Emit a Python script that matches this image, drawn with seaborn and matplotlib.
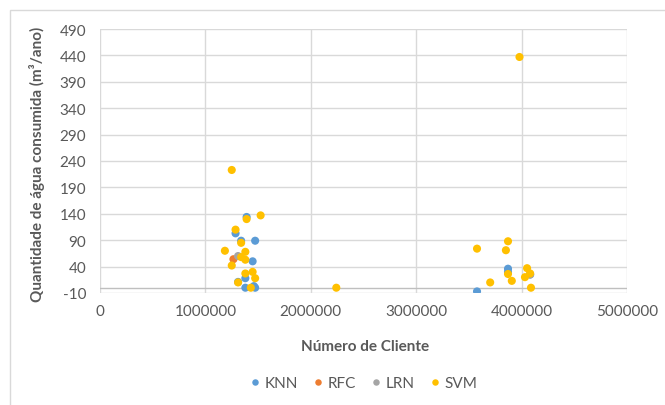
import matplotlib
matplotlib.use("Agg")
import matplotlib.pyplot as plt
from matplotlib.patches import Rectangle
import seaborn as sns
import pandas as pd

# Consumption predicted by each model, per client number
knn_x = [1391000, 1286000, 1339000, 1472000, 1448000, 1379000, 1379000,
         1460000, 1472000, 1310000, 3577000, 3871000, 3871000, 4081000]
knn_y = [134, 103, 89, 89, 50, 18, 0, 3, 0, 11, -7, 36, 30, 25]

rfc_x = [1266000]
rfc_y = [54]

lrn_x = [1310000, 4081000]
lrn_y = [60, 25]

svm_x = [1250000, 1524000, 1391000, 1286000, 1339000, 1185000, 1379000,
         1339000, 1379000, 1250000, 1379000, 1448000, 1472000, 1310000,
         1431000, 2242000, 3577000, 3871000, 3851000, 3980000, 3871000,
         3702000, 3907000, 4052000, 4081000, 4032000, 4089000]
svm_y = [223, 137, 130, 110, 85, 70, 68, 58, 53, 42, 27, 30, 18, 10,
         0, 0, 74, 88, 71, 437, 26, 10, 13, 37, 27, 20, 0]

series = ["KNN", "RFC", "LRN", "SVM"]
colors = ["#5B9BD5", "#ED7D31", "#A5A5A5", "#FFC000"]
y_ticks = list(range(-10, 491, 50))
x_ticks = [0, 1000000, 2000000, 3000000, 4000000, 5000000]

frames = []
for name, xs, ys in zip(series, [knn_x, rfc_x, lrn_x, svm_x],
                        [knn_y, rfc_y, lrn_y, svm_y]):
    frames.append(pd.DataFrame({"cliente": xs, "consumo": ys, "modelo": name}))
df = pd.concat(frames, ignore_index=True)

sns.set_theme(style="white")
plt.rcParams["font.family"] = ["Lato", "DejaVu Sans"]

W, H = 665, 406
fig = plt.figure(figsize=(W / 100, H / 100), dpi=100)
ax = fig.add_axes([100 / W, 1 - 294 / H, 527 / W, 264 / H])

# light outer frame of the chart area
fig.patches.append(Rectangle((10 / W, -0.2), 1.2, 1.2 - 10.7 / H,
                             transform=fig.transFigure, fill=False,
                             edgecolor="#D9D9D9", linewidth=1.0))

sns.scatterplot(data=df, x="cliente", y="consumo", hue="modelo",
                hue_order=series, palette=colors, s=34, edgecolor="none",
                ax=ax, zorder=3)

ax.set_xlim(0, 5000000)
ax.set_ylim(-10, 490)
ax.set_xticks(x_ticks)
ax.set_xticklabels([str(v) for v in x_ticks])
ax.set_yticks(y_ticks)
ax.set_yticklabels([str(v) for v in y_ticks])
ax.grid(True, color="#D9D9D9", linewidth=1.0, zorder=0)
ax.set_axisbelow(True)
ax.axhline(0, color="#BFBFBF", linewidth=1.0, zorder=1)
for sp in ax.spines.values():
    sp.set_visible(False)
ax.tick_params(axis="both", length=0, labelsize=11, labelcolor="#595959")
ax.tick_params(axis="y", pad=10)
ax.tick_params(axis="x", pad=8)

ax.set_xlabel("Número de Cliente", fontsize=11, fontweight="bold",
              color="#595959")
ax.set_ylabel("Quantidade de água consumida (m³/ano)", fontsize=11,
              fontweight="bold", color="#595959")
ax.xaxis.set_label_coords(0.503, -0.2)
ax.xaxis.label.set_va("center")
ax.yaxis.set_label_coords(-0.119, 0.49)
ax.yaxis.label.set_va("center")

sns.move_legend(ax, "center", bbox_to_anchor=(364 / W, 1 - 384 / H),
                bbox_transform=fig.transFigure, ncol=4, frameon=False,
                title=None, fontsize=11, handlelength=0.6,
                handletextpad=0.35, columnspacing=1.0, markerscale=0.8)
for t in ax.get_legend().get_texts():
    t.set_color("#595959")

fig.savefig("out.png", dpi=100)
